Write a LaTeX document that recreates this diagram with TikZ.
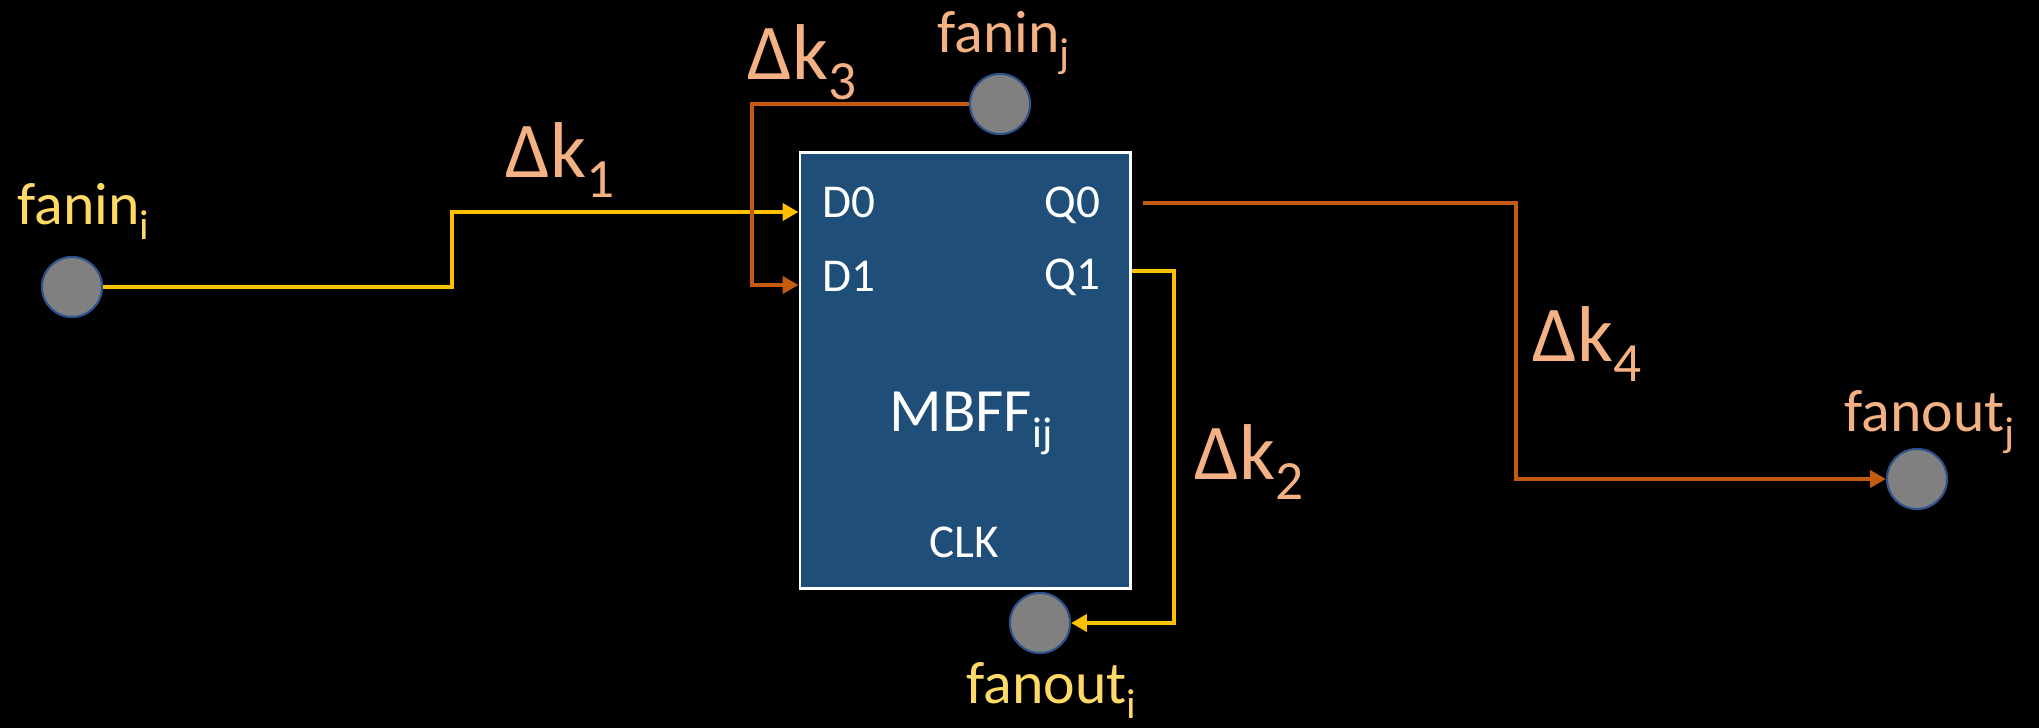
\documentclass[tikz,border=0pt]{standalone}
\usepackage{fontspec}
\setmainfont{Carlito}
\usetikzlibrary{arrows.meta}

\definecolor{wiregold}{HTML}{FFC000}
\definecolor{wireorange}{HTML}{C55A11}
\definecolor{txtgold}{HTML}{FFD966}
\definecolor{txtorange}{HTML}{F4B183}
\definecolor{ffblue}{HTML}{1F4E79}
\definecolor{pinrim}{HTML}{2F528F}

\newcommand{\lowsub}[1]{\raisebox{-0.25em}{\scalebox{0.7}{#1}}}

\tikzset{
    pin dot/.style={circle, minimum size=0.6cm, fill=black!50, draw=pinrim, line width=0.6pt},
    ffbox/.style={draw=white, line width=0.8pt, fill=ffblue, minimum width=3.3cm, minimum height=4.35cm},
    gold wire/.style={draw=wiregold, line width=1.4pt, -{Triangle[length=4.5pt, width=4.8pt]}},
    orange wire/.style={draw=wireorange, line width=1.4pt, -{Triangle[length=4.5pt, width=4.8pt]}},
    dk label/.style={font=\fontsize{22.5}{27}\selectfont, text=txtorange, anchor=base west},
    net label/.style={font=\fontsize{17}{20}\selectfont, anchor=base west},
    port label/.style={font=\fontsize{13.4}{16}\selectfont, text=white}
}

\begin{document}
\begin{tikzpicture}[x=0.01cm, y=-0.01cm, every node/.style={inner sep=0pt}]
    % background
    \fill[black] (0,0) rectangle (2039,728);

    % MBFF
    \node[ffbox] (ff) at (965,370.5) {};
    \node[port label, anchor=base west] (d0) at (822,218) {D0};
    \node[port label, anchor=base west] (d1) at (822,292) {D1};
    \node[port label, anchor=base east] (q0) at (1101,218) {Q0};
    \node[port label, anchor=base east] (q1) at (1101,290) {Q1};
    \node[text=white, font=\fontsize{17.5}{21}\selectfont, anchor=base] (name) at (971,432) {MBFF\lowsub{ij}};
    \node[port label, anchor=base] (clk) at (964,558) {CLK};

    % pins
    \coordinate (d0in) at (ff.west |- 0,212);
    \coordinate (d1in) at (ff.west |- 0,285);
    \coordinate (q0out) at (1143,203);
    \coordinate (q1out) at (ff.east |- 0,271);

    % fanin / fanout
    \foreach \n/\x/\y in {fi/72/287, fj/1000/104, foi/1040/623, foj/1917/479} {
        \node[pin dot] (\n) at (\x,\y) {};
    }
    \node[net label, text=txtgold] (fil) at (17,225) {fanin\lowsub{i}};
    \node[net label, text=txtorange] (fjl) at (937,53) {fanin\lowsub{j}};
    \node[net label, text=txtgold] (foil) at (966,704) {fanout\lowsub{i}};
    \node[net label, text=txtorange] (fojl) at (1844,432) {fanout\lowsub{j}};

    % wires
    \draw[gold wire] (fi) -- (452,287) |- (d0in);
    \draw[orange wire] (fj) -- (752,104) |- (d1in);
    \draw[orange wire] (q0out) -- (1516,203) |- (foj);
    \draw[gold wire] (q1out) -- (1174,271) |- (foi);

    % delays
    \node[dk label] (k1) at (505,178) {Δk\lowsub{1}};
    \node[dk label] (k2) at (1194,480) {Δk\lowsub{2}};
    \node[dk label] (k3) at (747,80) {Δk\lowsub{3}};
    \node[dk label] (k4) at (1532,362) {Δk\lowsub{4}};
\end{tikzpicture}
\end{document}
